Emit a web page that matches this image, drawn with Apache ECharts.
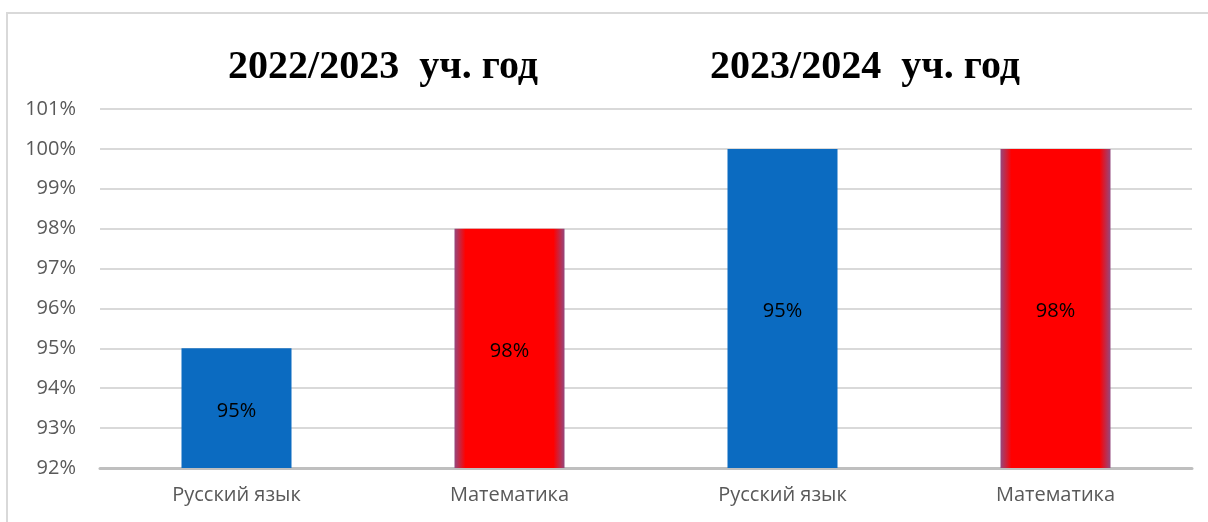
<!DOCTYPE html>
<html>
<head>
<meta charset="utf-8">
<script src="https://cdn.jsdelivr.net/npm/echarts@6/dist/echarts.min.js"></script>
<style>
  html, body { margin: 0; padding: 0; background: #fff; }
  #chart { width: 1208px; height: 522px; }
</style>
</head>
<body>
<div id="chart"></div>
<script>
// данные
const categories = ["Русский язык", "Математика", "Русский язык", "Математика"];
const values = [95, 98, 100, 100];
const barLabels = ["95%", "98%", "95%", "98%"];
const yearTitles = ["2022/2023  уч. год", "2023/2024  уч. год"];
const yMin = 92, yMax = 101, yStep = 1;

const blue = "#0B6BC1";
// красный столбик с тёмной "подсветкой" по краям
const red = new echarts.graphic.LinearGradient(0, 0, 1, 0, [
  { offset: 0, color: "#94487e" },
  { offset: 0.1, color: "#ff0000" },
  { offset: 0.9, color: "#ff0000" },
  { offset: 1, color: "#94487e" },
]);
const barColors = [blue, red, blue, red];

const chart = echarts.init(document.getElementById("chart"));

const titleFont = "bold 40px 'Liberation Serif', 'DejaVu Serif', serif";

const option = {
  backgroundColor: "#fff",
  animation: false,
  grid: { left: 100, right: 16, top: 109, bottom: 54 },
  graphic: [
    {
      type: "rect",
      shape: { x: 7, y: 13, width: 1400, height: 700 },
      style: { fill: "none", stroke: "#d9d9d9", lineWidth: 2 },
      silent: true,
    },
    {
      type: "text",
      x: 383,
      y: 68,
      style: {
        text: yearTitles[0],
        font: titleFont,
        fill: "#000",
        textAlign: "center",
        textVerticalAlign: "middle",
      },
    },
    {
      type: "text",
      x: 865,
      y: 68,
      style: {
        text: yearTitles[1],
        font: titleFont,
        fill: "#000",
        textAlign: "center",
        textVerticalAlign: "middle",
      },
    },
  ],
  xAxis: {
    type: "category",
    data: categories,
    axisLine: { lineStyle: { color: "#bfbfbf", width: 3 } },
    axisTick: { show: false },
    axisLabel: {
      color: "#595959",
      fontSize: 20,
      fontFamily: "'Open Sans', 'Noto Sans', sans-serif",
      margin: 17,
    },
  },
  yAxis: {
    type: "value",
    min: yMin,
    max: yMax,
    interval: yStep,
    axisLine: { show: false },
    axisTick: { show: false },
    splitLine: { lineStyle: { color: "#d9d9d9", width: 2 } },
    axisLabel: {
      formatter: "{value}%",
      color: "#595959",
      fontSize: 20,
      fontFamily: "'Open Sans', 'Noto Sans', sans-serif",
      margin: 24,
    },
  },
  series: [
    {
      type: "bar",
      barWidth: 110,
      data: values.map((v, i) => ({
        value: v,
        itemStyle: { color: barColors[i] },
        label: { formatter: barLabels[i] },
      })),
      label: {
        show: true,
        position: "inside",
        offset: [0, 3],
        color: "#000",
        fontSize: 20,
        fontFamily: "'Open Sans', 'Noto Sans', sans-serif",
      },
    },
  ],
};

chart.setOption(option);
</script>
</body>
</html>
